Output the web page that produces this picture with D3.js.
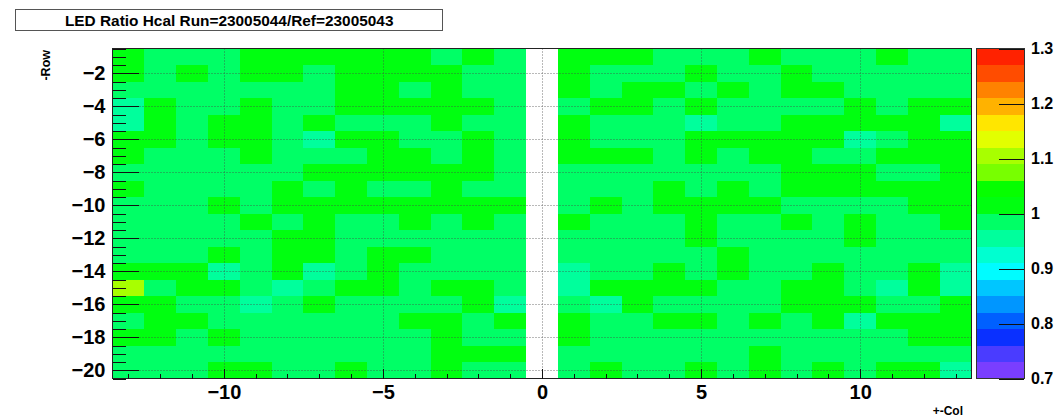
<!DOCTYPE html>
<html>
<head>
<meta charset="utf-8">
<script src="https://cdn.jsdelivr.net/npm/d3@7"></script>
<style>
  html, body { margin: 0; padding: 0; background: #fff; }
  svg { display: block; }
  text { font-family: "Liberation Sans", Arial, Helvetica, sans-serif; font-weight: bold; fill: #000; }
</style>
</head>
<body>
<svg id="chart" width="1064" height="418"></svg>
<script>
// ---- data -------------------------------------------------------------
const titleText = "LED Ratio Hcal Run=23005044/Ref=23005043";
const xAxisTitle = "+-Col";
const yAxisTitle = "-Row";

// column bins (+-Col), column 0 carries no channel
const cols = [-13, -12, -11, -10, -9, -8, -7, -6, -5, -4, -3, -2, -1, 0,
              1, 2, 3, 4, 5, 6, 7, 8, 9, 10, 11, 12, 13];
// row bins (-Row)
const rows = [-1, -2, -3, -4, -5, -6, -7, -8, -9, -10,
              -11, -12, -13, -14, -15, -16, -17, -18, -19, -20];

// LED ratio per tower, one array per row, ordered like `cols`
const ratio = [
  [1.01,0.99,0.99,0.99,1.01,1.01,1.01,1.01,1.01,1.01,0.99,1.01,0.99, null, 1.01,1.01,1.01,0.99,0.99,0.99,1.01,0.99,0.99,0.99,1.01,0.99,0.99],
  [1.01,0.99,1.01,0.99,1.01,1.01,0.99,1.01,1.01,1.01,1.01,0.99,0.99, null, 1.01,0.99,0.99,0.99,1.01,0.99,0.99,1.01,0.99,0.99,0.99,0.99,0.99],
  [0.99,0.99,0.99,0.99,0.99,0.99,0.99,1.01,1.01,0.99,1.01,0.99,0.99, null, 1.01,0.99,1.01,1.01,0.99,1.01,0.99,1.01,1.01,0.99,0.99,0.99,0.99],
  [0.96,1.01,0.99,0.99,1.01,0.99,0.99,1.01,1.01,1.01,1.01,1.01,0.99, null, 0.99,1.01,1.01,0.99,1.01,0.99,0.99,0.99,0.99,1.01,0.99,1.01,1.01],
  [0.96,1.01,0.99,1.01,1.01,0.99,1.01,0.99,0.99,0.99,1.01,0.99,0.99, null, 1.01,0.99,0.99,0.99,0.96,0.99,0.99,1.01,1.01,1.01,1.01,1.01,0.96],
  [1.01,1.01,0.99,1.01,1.01,0.99,0.96,1.01,1.01,0.99,0.99,1.01,0.99, null, 1.01,0.99,0.99,0.99,1.01,1.01,1.01,1.01,1.01,0.96,0.99,1.01,1.01],
  [1.01,0.99,0.99,0.99,1.01,0.99,0.99,0.99,1.01,1.01,0.99,1.01,0.99, null, 1.01,1.01,1.01,0.99,1.01,0.99,1.01,1.01,0.99,0.99,1.01,1.01,1.01],
  [0.99,0.99,0.99,0.99,0.99,0.99,1.01,1.01,1.01,1.01,1.01,1.01,0.99, null, 0.99,0.99,0.99,0.99,0.99,0.99,0.99,1.01,1.01,1.01,0.99,0.99,1.01],
  [1.01,0.99,0.99,0.99,0.99,1.01,0.99,1.01,0.99,0.99,1.01,0.99,0.99, null, 0.99,0.99,0.99,1.01,0.99,1.01,0.99,1.01,1.01,1.01,1.01,1.01,1.01],
  [0.99,0.99,0.99,1.01,0.99,1.01,1.01,1.01,1.01,1.01,1.01,1.01,1.01, null, 0.99,1.01,0.99,1.01,1.01,1.01,1.01,0.99,0.99,0.99,0.99,1.01,1.01],
  [0.99,0.99,0.99,0.99,1.01,0.99,1.01,0.99,0.99,1.01,0.99,1.01,0.99, null, 1.01,0.99,0.99,0.99,1.01,0.99,0.99,1.01,0.99,1.01,0.99,0.99,1.01],
  [0.99,0.99,0.99,0.99,0.99,1.01,1.01,0.99,0.99,0.99,0.99,0.99,0.99, null, 0.99,0.99,0.99,0.99,1.01,0.99,0.99,0.99,0.99,1.01,0.99,0.99,0.99],
  [0.99,0.99,0.99,1.01,0.99,1.01,1.01,0.99,1.01,1.01,0.99,0.99,0.99, null, 0.99,0.99,0.99,0.99,0.99,1.01,0.99,0.99,0.99,0.99,0.99,0.99,0.99],
  [1.01,1.01,1.01,0.96,0.99,1.01,0.96,0.99,1.01,0.99,0.99,0.99,0.99, null, 0.96,0.99,0.99,1.01,0.99,1.01,0.99,0.99,1.01,0.99,0.99,1.01,0.96],
  [1.10,0.99,1.01,1.01,0.99,0.96,0.99,1.01,1.01,0.99,1.01,1.01,0.99, null, 0.96,1.01,1.01,1.01,1.01,0.99,0.99,1.01,1.01,0.99,0.96,1.01,0.96],
  [1.01,1.01,0.99,0.99,0.96,0.99,1.01,0.99,0.99,0.99,0.99,1.01,0.96, null, 0.99,0.96,1.01,0.99,0.99,0.99,0.99,1.01,1.01,1.01,0.99,0.99,1.01],
  [0.99,1.01,1.01,0.99,0.99,0.99,0.99,0.99,0.99,1.01,1.01,0.99,1.01, null, 1.01,0.99,0.99,1.01,1.01,0.99,1.01,0.99,1.01,0.96,1.01,1.01,1.01],
  [1.01,1.01,0.99,1.01,0.99,0.99,0.99,0.99,0.99,0.99,1.01,0.99,0.99, null, 1.01,0.99,0.99,0.99,0.99,0.99,0.99,0.99,0.99,0.99,0.99,1.01,1.01],
  [0.99,0.99,0.99,0.99,0.99,0.99,0.99,0.99,0.99,0.99,1.01,1.01,1.01, null, 0.99,0.99,0.99,0.99,0.99,0.99,1.01,0.99,0.99,0.99,0.99,0.99,0.99],
  [0.99,0.99,0.99,1.01,1.01,0.99,0.99,1.01,0.99,0.99,1.01,0.99,0.99, null, 0.99,1.01,0.99,0.99,1.01,0.99,1.01,0.99,1.01,0.99,1.01,1.01,0.96]
];

// z range and 20-level contour palette (violet -> red)
const zRange = [0.7, 1.3];
const zTicks = [0.7, 0.8, 0.9, 1.0, 1.1, 1.2, 1.3];
const paletteColors = [
  "#7a3eff", "#4a3cff", "#0a30ff", "#0060ff", "#0096ff",
  "#00c6ff", "#00fcff", "#00ffd0", "#00ff9c", "#00ff66",
  "#00ff10", "#06ff00", "#78ff00", "#a8ff00", "#e2ff00",
  "#ffe600", "#ffb200", "#ff8200", "#ff4c00", "#ff2200"
];
const xMajorTicks = [-10, -5, 0, 5, 10];
const xMinorTicks = [-13, -12, -11, -9, -8, -7, -6, -4, -3, -2, -1, 1, 2, 3, 4, 6, 7, 8, 9, 11, 12, 13];
const yMajorTicks = [-2, -4, -6, -8, -10, -12, -14, -16, -18, -20];
const yMinorTicks = [-0.5, -1, -1.5, -2.5, -3, -3.5, -4.5, -5, -5.5, -6.5, -7, -7.5, -8.5, -9, -9.5,
                     -10.5, -11, -11.5, -12.5, -13, -13.5, -14.5, -15, -15.5, -16.5, -17, -17.5,
                     -18.5, -19, -19.5, -20.5];

// ---- layout -----------------------------------------------------------
const plot = { left: 112.5, right: 971.5, top: 48.5, bottom: 378.5 };
const bar = { left: 976, right: 1024 };
const fontStack = '"Liberation Sans", Arial, Helvetica, sans-serif';

const svg = d3.select("#chart");

const x = d3.scaleLinear().domain([-13.5, 13.5]).range([plot.left, plot.right]);
const y = d3.scaleLinear().domain([-0.5, -20.5]).range([plot.top, plot.bottom]);
const z = d3.scaleLinear().domain(zRange).range([plot.bottom, plot.top]);
const color = d3.scaleQuantize().domain(zRange).range(paletteColors);

// ---- cells ------------------------------------------------------------
const cells = [];
rows.forEach((r, i) => {
  cols.forEach((c, j) => {
    const v = ratio[i][j];
    if (v != null) cells.push({ col: c, row: r, value: v });
  });
});

svg.append("g")
  .attr("shape-rendering", "crispEdges")
  .selectAll("rect")
  .data(cells)
  .join("rect")
  .attr("x", d => x(d.col - 0.5))
  .attr("y", d => y(d.row + 0.5))
  .attr("width", d => x(d.col + 0.5) - x(d.col - 0.5))
  .attr("height", d => y(d.row - 0.5) - y(d.row + 0.5))
  .attr("fill", d => color(d.value));

// ---- grid -------------------------------------------------------------
const grid = svg.append("g")
  .attr("stroke", "#444")
  .attr("stroke-width", 1)
  .attr("stroke-dasharray", "1,2")
  .attr("opacity", 0.75);

grid.selectAll("line.gx")
  .data(xMajorTicks)
  .join("line")
  .attr("class", "gx")
  .attr("x1", d => Math.round(x(d)) + 0.5)
  .attr("x2", d => Math.round(x(d)) + 0.5)
  .attr("y1", plot.top)
  .attr("y2", plot.bottom);

grid.selectAll("line.gy")
  .data(yMajorTicks)
  .join("line")
  .attr("class", "gy")
  .attr("y1", d => Math.round(y(d)) + 0.5)
  .attr("y2", d => Math.round(y(d)) + 0.5)
  .attr("x1", plot.left)
  .attr("x2", plot.right);

// ---- frame and axes ---------------------------------------------------
svg.append("rect")
  .attr("x", plot.left).attr("y", plot.top)
  .attr("width", plot.right - plot.left).attr("height", plot.bottom - plot.top)
  .attr("fill", "none").attr("stroke", "#222").attr("stroke-width", 1)
  .attr("shape-rendering", "crispEdges");

function styleAxis(g, size) {
  g.select(".domain").remove();
  g.selectAll(".tick line").attr("stroke", "#111").attr("shape-rendering", "crispEdges");
  g.selectAll(".tick text")
    .attr("fill", "#000")
    .style("font-family", fontStack)
    .style("font-weight", "bold")
    .style("font-size", size);
}

const minusFmt = d => (d < 0 ? "\u2212" + Math.abs(d) : String(d));

// x axis
svg.append("g")
  .attr("transform", `translate(0,${plot.bottom})`)
  .call(d3.axisBottom(x).tickValues(xMinorTicks).tickSize(-5).tickFormat(""))
  .call(g => styleAxis(g, "20px"));
svg.append("g")
  .attr("transform", `translate(0,${plot.bottom})`)
  .call(d3.axisBottom(x).tickValues(xMajorTicks).tickSize(-10).tickPadding(6).tickFormat(minusFmt))
  .call(g => styleAxis(g, "20px"));

// y axis
svg.append("g")
  .attr("transform", `translate(${plot.left},0)`)
  .call(d3.axisLeft(y).tickValues(yMinorTicks).tickSize(-13).tickFormat(""))
  .call(g => styleAxis(g, "20px"));
svg.append("g")
  .attr("transform", `translate(${plot.left},0)`)
  .call(d3.axisLeft(y).tickValues(yMajorTicks).tickSize(-26).tickPadding(7).tickFormat(minusFmt))
  .call(g => styleAxis(g, "20px"));

// ---- colour bar -------------------------------------------------------
const bands = paletteColors.map((c, i) => {
  const [lo, hi] = color.invertExtent(c);
  return { lo, hi, c };
});

svg.append("g")
  .attr("shape-rendering", "crispEdges")
  .selectAll("rect")
  .data(bands)
  .join("rect")
  .attr("x", bar.left)
  .attr("width", bar.right - bar.left)
  .attr("y", d => z(d.hi))
  .attr("height", d => z(d.lo) - z(d.hi))
  .attr("fill", d => d.c);

svg.append("rect")
  .attr("x", bar.left).attr("y", plot.top)
  .attr("width", bar.right - bar.left).attr("height", plot.bottom - plot.top)
  .attr("fill", "none").attr("stroke", "#333").attr("stroke-width", 1)
  .attr("shape-rendering", "crispEdges");

svg.append("g")
  .attr("transform", `translate(${bar.right},0)`)
  .call(d3.axisRight(z).tickValues(zTicks).tickSize(-25).tickPadding(7).tickFormat(d => String(+d.toFixed(1))))
  .call(g => styleAxis(g, "16px"));

// ---- titles -----------------------------------------------------------
svg.append("rect")
  .attr("x", 15.5).attr("y", 9.5).attr("width", 427).attr("height", 21)
  .attr("fill", "#fff").attr("stroke", "#555").attr("stroke-width", 1);
svg.append("text")
  .attr("x", 229.2).attr("y", 26)
  .attr("text-anchor", "middle")
  .style("font-size", "15.4px")
  .text(titleText);

svg.append("text")
  .attr("transform", "translate(50,50) rotate(-90)")
  .attr("text-anchor", "end")
  .style("font-size", "12.5px")
  .text(yAxisTitle);

svg.append("text")
  .attr("x", 963).attr("y", 415.3)
  .attr("text-anchor", "end")
  .style("font-size", "12px")
  .text(xAxisTitle);
</script>
</body>
</html>
